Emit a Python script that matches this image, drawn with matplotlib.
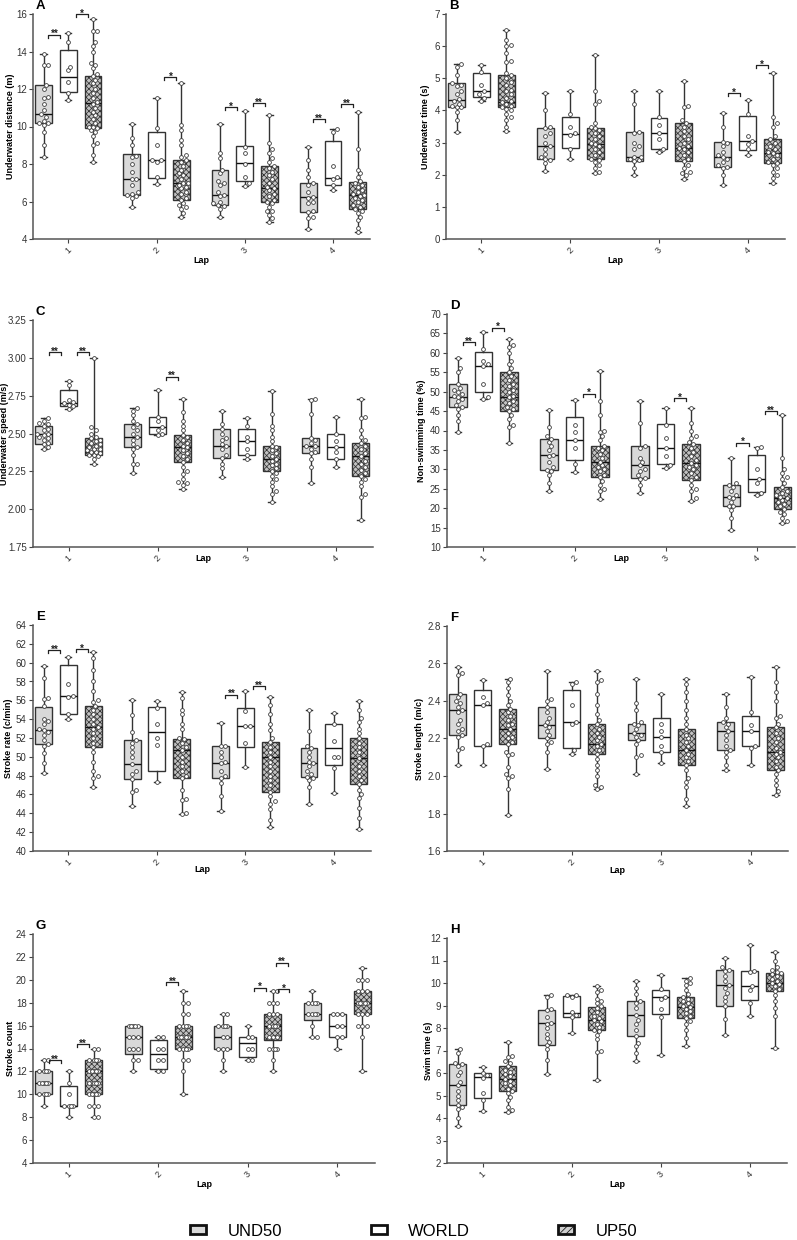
import numpy as np
import matplotlib
matplotlib.use('Agg')
import matplotlib.pyplot as plt
from matplotlib.patches import Patch

plt.rcParams['font.family'] = ['Liberation Sans', 'DejaVu Sans']
plt.rcParams['hatch.linewidth'] = 0.55

laps = ['1', '2', '3', '4']
groups = ['UND50', 'WORLD', 'UP50']

# ---------------- box statistics (min, q1, median, q3, max) per lap ----------------
A_und50_box = [(8.35, 10.2, 10.65, 12.2, 13.85), (5.7, 6.35, 7.2, 8.55, 10.15), (5.15, 5.8, 6.35, 7.7, 10.15), (4.55, 5.45, 6.25, 7.0, 8.9)]
A_world_box = [(11.4, 11.85, 12.65, 14.1, 15.0), (6.95, 7.25, 8.2, 9.7, 11.5), (6.85, 7.1, 8.05, 8.95, 10.85), (6.6, 6.9, 7.25, 9.25, 9.85)]
A_up50_box = [(8.1, 9.9, 11.25, 12.7, 15.75), (5.2, 6.1, 7.0, 8.2, 12.3), (4.9, 5.95, 6.7, 7.9, 10.6), (4.35, 5.6, 6.35, 7.05, 10.8)]

B_und50_box = [(3.32, 4.12, 4.32, 4.84, 5.45), (2.12, 2.50, 2.90, 3.46, 4.53), (1.98, 2.42, 2.56, 3.32, 4.61), (1.68, 2.25, 2.56, 3.03, 3.92)]
B_world_box = [(4.29, 4.41, 4.60, 5.18, 5.41), (2.48, 2.82, 3.26, 3.80, 4.61), (2.70, 2.80, 3.31, 3.76, 4.62), (2.62, 2.78, 3.04, 3.84, 4.32)]
B_up50_box = [(3.37, 4.10, 4.27, 5.10, 6.50), (2.04, 2.48, 2.95, 3.44, 5.72), (1.88, 2.42, 2.82, 3.62, 4.93), (1.73, 2.36, 2.68, 3.10, 5.16)]

C_und50_box = [(2.40, 2.43, 2.495, 2.55, 2.60), (2.24, 2.41, 2.48, 2.56, 2.67), (2.21, 2.34, 2.42, 2.53, 2.65), (2.17, 2.37, 2.42, 2.47, 2.73)]
C_world_box = [(2.66, 2.685, 2.70, 2.79, 2.85), (2.49, 2.50, 2.54, 2.61, 2.79), (2.33, 2.36, 2.45, 2.53, 2.60), (2.28, 2.33, 2.41, 2.50, 2.61)]
C_up50_box = [(2.30, 2.36, 2.38, 2.47, 3.00), (2.13, 2.31, 2.41, 2.49, 2.73), (2.05, 2.25, 2.33, 2.42, 2.78), (1.93, 2.22, 2.35, 2.44, 2.73)]

D_und50_box = [(39.6, 46.1, 48.7, 52.1, 58.6), (24.3, 29.8, 33.8, 37.9, 45.3), (23.9, 27.8, 31.0, 36.1, 47.6), (14.3, 20.6, 22.9, 26.0, 32.8)]
D_world_box = [(48.1, 49.8, 56.7, 60.1, 65.3), (29.4, 32.4, 37.6, 43.6, 47.9), (30.3, 31.5, 35.4, 41.8, 45.8), (23.5, 24.2, 27.5, 33.7, 35.8)]
D_up50_box = [(36.8, 45.0, 48.5, 55.1, 63.5), (22.3, 28.0, 32.0, 35.9, 55.2), (21.9, 27.2, 31.7, 36.4, 45.9), (16.2, 19.7, 22.7, 25.5, 43.9)]

E_und50_box = [(48.3, 51.4, 52.8, 55.3, 59.6), (44.8, 47.6, 49.2, 51.8, 56.0), (44.3, 47.8, 49.3, 51.2, 53.6), (45.0, 47.9, 49.3, 50.9, 55.0)]
E_world_box = [(54.0, 54.5, 56.5, 59.8, 60.6), (47.3, 48.5, 52.6, 55.3, 55.9), (48.9, 51.0, 53.3, 55.2, 57.0), (46.2, 49.1, 50.9, 53.5, 54.7)]
E_up50_box = [(46.8, 51.0, 53.2, 55.4, 61.1), (43.9, 47.7, 50.7, 51.9, 56.9), (42.6, 46.3, 50.0, 51.6, 56.4), (42.3, 47.1, 49.9, 52.0, 55.9)]

F_und50_box = [(2.06, 2.22, 2.35, 2.44, 2.58), (2.04, 2.20, 2.27, 2.37, 2.56), (2.01, 2.19, 2.23, 2.28, 2.52), (2.03, 2.14, 2.24, 2.29, 2.44)]
F_world_box = [(2.06, 2.16, 2.38, 2.46, 2.51), (2.12, 2.15, 2.29, 2.46, 2.50), (2.07, 2.13, 2.21, 2.31, 2.44), (2.06, 2.16, 2.24, 2.32, 2.53)]
F_up50_box = [(1.79, 2.17, 2.25, 2.36, 2.52), (1.93, 2.12, 2.17, 2.28, 2.56), (1.84, 2.06, 2.14, 2.25, 2.52), (1.90, 2.03, 2.13, 2.26, 2.58)]

G_und50_box = [(9, 10, 11, 12, 13), (12, 13.5, 15, 16, 16), (12, 14, 15, 16, 17), (15, 16.5, 17, 18, 19)]
G_world_box = [(8, 9, 9, 10.7, 12), (12, 12.25, 13.5, 14.75, 15), (13, 13.25, 14.5, 15, 16), (14, 15, 16, 17, 17)]
G_up50_box = [(8, 10, 12, 13, 14), (10, 14, 15, 16, 19), (12, 14.75, 16, 17, 19), (12, 17, 18, 19, 21)]

H_und50_box = [(3.65, 4.58, 5.45, 6.40, 7.05), (5.95, 7.26, 8.24, 8.82, 9.45), (6.55, 7.65, 8.56, 9.18, 10.08), (7.68, 8.98, 9.92, 10.60, 11.11)]
H_world_box = [(4.32, 4.87, 5.83, 6.00, 6.28), (7.76, 8.48, 8.68, 9.43, 9.48), (6.80, 8.63, 9.36, 9.71, 10.36), (8.52, 9.26, 9.86, 10.52, 11.67)]
H_up50_box = [(4.28, 5.20, 5.75, 6.30, 7.38), (5.68, 7.93, 8.36, 8.92, 9.85), (7.21, 8.45, 8.93, 9.38, 10.22), (7.12, 9.65, 10.00, 10.43, 11.36)]

# ---------------- individual observations per lap ----------------
A_und50_pts = [
    [8.35, 9.0, 9.7, 10.1, 10.2, 10.2, 10.3, 10.5, 10.65, 10.9, 11.2, 11.5, 11.6, 12.0, 12.2, 13.3, 13.3, 13.85],
    [5.7, 6.2, 6.3, 6.35, 6.4, 6.5, 6.9, 7.2, 7.2, 7.6, 8.0, 8.4, 8.45, 9.0, 9.4, 10.15],
    [5.15, 5.6, 5.75, 5.8, 5.9, 6.0, 6.3, 6.35, 6.5, 6.9, 7.0, 7.1, 7.5, 7.7, 8.3, 8.6, 10.15],
    [4.55, 5.1, 5.2, 5.45, 5.5, 5.9, 6.0, 6.2, 6.25, 6.5, 6.9, 7.0, 7.3, 7.7, 8.2, 8.9]]
A_world_pts = [
    [11.4, 11.8, 12.4, 13.0, 13.2, 14.5, 15.0],
    [6.95, 7.3, 8.1, 8.2, 8.2, 9.0, 9.9, 11.5],
    [6.85, 7.0, 7.3, 8.0, 8.6, 8.9, 10.85],
    [6.6, 6.9, 7.2, 7.3, 7.9, 9.7, 9.85]]
A_up50_pts = [
    [8.1, 8.5, 9.0, 9.1, 9.5, 9.7, 9.8, 9.9, 10.0, 10.0, 10.2, 10.4, 10.6, 10.8, 11.0, 11.2, 11.3, 11.5, 11.8, 12.0, 12.3, 12.5, 12.7, 12.8, 13.1, 13.3, 13.4, 14.0, 14.3, 14.5, 15.1, 15.1, 15.75],
    [5.2, 5.4, 5.6, 5.7, 5.8, 5.9, 6.1, 6.2, 6.4, 6.5, 6.7, 6.8, 6.9, 7.0, 7.0, 7.2, 7.4, 7.5, 7.7, 7.9, 8.1, 8.2, 8.4, 8.5, 9.0, 9.3, 9.8, 10.1, 12.3],
    [4.9, 5.1, 5.3, 5.5, 5.5, 5.7, 5.9, 6.0, 6.1, 6.3, 6.4, 6.6, 6.7, 6.8, 7.0, 7.2, 7.4, 7.6, 7.8, 7.9, 8.1, 8.3, 8.6, 8.8, 9.1, 10.6],
    [4.35, 4.6, 5.0, 5.2, 5.4, 5.5, 5.6, 5.7, 5.8, 6.0, 6.1, 6.2, 6.3, 6.35, 6.4, 6.5, 6.6, 6.8, 6.9, 7.0, 7.1, 7.3, 7.5, 7.7, 8.8, 10.8]]

B_und50_pts = [
    [3.32, 3.7, 3.95, 4.1, 4.12, 4.15, 4.2, 4.3, 4.35, 4.5, 4.6, 4.75, 4.8, 4.85, 5.1, 5.35, 5.45],
    [2.12, 2.35, 2.45, 2.5, 2.55, 2.65, 2.8, 2.9, 3.0, 3.2, 3.3, 3.46, 3.5, 4.0, 4.53],
    [1.98, 2.2, 2.42, 2.45, 2.5, 2.55, 2.56, 2.8, 2.9, 3.0, 3.3, 3.32, 4.2, 4.61],
    [1.68, 2.0, 2.2, 2.25, 2.3, 2.4, 2.5, 2.56, 2.6, 2.7, 2.9, 3.0, 3.03, 3.5, 3.92]]
B_world_pts = [
    [4.29, 4.4, 4.5, 4.6, 4.8, 5.2, 5.41],
    [2.48, 2.8, 3.25, 3.3, 3.5, 3.9, 4.61],
    [2.70, 2.8, 3.1, 3.3, 3.55, 3.8, 4.62],
    [2.62, 2.8, 2.95, 3.04, 3.2, 3.9, 4.32]]
B_up50_pts = [
    [3.37, 3.5, 3.7, 3.8, 3.9, 4.0, 4.05, 4.1, 4.15, 4.2, 4.27, 4.3, 4.4, 4.5, 4.6, 4.65, 4.8, 4.9, 5.0, 5.1, 5.15, 5.5, 5.55, 5.8, 6.0, 6.05, 6.2, 6.50],
    [2.04, 2.1, 2.2, 2.3, 2.4, 2.45, 2.5, 2.6, 2.7, 2.8, 2.9, 2.95, 3.0, 3.1, 3.2, 3.3, 3.4, 3.44, 3.5, 3.6, 4.2, 4.3, 4.6, 5.72],
    [1.88, 2.0, 2.05, 2.1, 2.2, 2.3, 2.42, 2.5, 2.6, 2.7, 2.8, 2.82, 2.9, 3.0, 3.1, 3.2, 3.35, 3.5, 3.62, 3.7, 4.1, 4.15, 4.93],
    [1.73, 1.9, 2.0, 2.1, 2.2, 2.3, 2.36, 2.4, 2.5, 2.6, 2.68, 2.7, 2.8, 2.9, 3.0, 3.1, 3.2, 3.5, 3.6, 3.8, 5.16]]

C_und50_pts = [
    [2.40, 2.41, 2.43, 2.44, 2.46, 2.47, 2.48, 2.49, 2.50, 2.50, 2.52, 2.53, 2.55, 2.56, 2.57, 2.58, 2.60],
    [2.24, 2.30, 2.30, 2.36, 2.40, 2.41, 2.43, 2.46, 2.48, 2.50, 2.52, 2.54, 2.56, 2.58, 2.62, 2.65, 2.67],
    [2.21, 2.27, 2.30, 2.34, 2.36, 2.40, 2.42, 2.43, 2.46, 2.47, 2.50, 2.53, 2.56, 2.65],
    [2.17, 2.28, 2.33, 2.37, 2.38, 2.40, 2.42, 2.42, 2.44, 2.46, 2.47, 2.63, 2.72, 2.73]]
C_world_pts = [
    [2.66, 2.68, 2.69, 2.70, 2.71, 2.72, 2.82, 2.85],
    [2.49, 2.50, 2.52, 2.54, 2.58, 2.61, 2.79],
    [2.33, 2.36, 2.40, 2.45, 2.48, 2.55, 2.60],
    [2.28, 2.33, 2.38, 2.41, 2.45, 2.50, 2.61]]
C_up50_pts = [
    [2.30, 2.33, 2.35, 2.36, 2.36, 2.37, 2.38, 2.38, 2.39, 2.40, 2.40, 2.41, 2.42, 2.43, 2.44, 2.45, 2.46, 2.47, 2.48, 2.50, 2.52, 2.54, 3.00],
    [2.13, 2.16, 2.17, 2.18, 2.20, 2.23, 2.25, 2.28, 2.31, 2.33, 2.35, 2.37, 2.39, 2.41, 2.42, 2.44, 2.46, 2.48, 2.49, 2.52, 2.55, 2.58, 2.64, 2.73],
    [2.05, 2.10, 2.12, 2.15, 2.18, 2.20, 2.22, 2.24, 2.25, 2.27, 2.29, 2.30, 2.32, 2.33, 2.35, 2.37, 2.39, 2.41, 2.42, 2.45, 2.48, 2.52, 2.55, 2.63, 2.78],
    [1.93, 2.08, 2.10, 2.15, 2.18, 2.20, 2.22, 2.24, 2.26, 2.28, 2.30, 2.32, 2.35, 2.37, 2.40, 2.42, 2.44, 2.46, 2.48, 2.52, 2.60, 2.61, 2.73]]

D_und50_pts = [
    [39.6, 42.5, 44.0, 45.5, 46.1, 46.5, 47.5, 48.0, 48.7, 49.0, 49.5, 50.0, 50.5, 51.0, 52.1, 55.0, 56.0, 58.6],
    [24.3, 26.5, 28.5, 29.5, 29.8, 30.5, 32.0, 33.5, 33.8, 35.0, 36.0, 37.0, 37.9, 38.5, 41.0, 45.3],
    [23.9, 26.0, 27.5, 27.8, 28.5, 29.5, 30.0, 31.0, 32.0, 33.0, 35.5, 36.1, 42.0, 47.6],
    [14.3, 17.5, 19.5, 20.5, 20.6, 21.5, 22.5, 22.9, 23.5, 24.5, 25.5, 26.0, 26.5, 32.8]]
D_world_pts = [
    [48.1, 48.5, 52.0, 56.5, 57.0, 58.0, 61.0, 65.3],
    [29.4, 31.5, 35.5, 37.6, 39.5, 41.5, 47.9],
    [30.3, 31.0, 33.5, 35.4, 38.0, 41.5, 45.8],
    [23.5, 24.0, 26.5, 27.5, 30.0, 35.5, 35.8]]
D_up50_pts = [
    [36.8, 41.0, 41.5, 43.0, 44.0, 45.0, 45.5, 46.0, 47.0, 47.5, 48.5, 49.0, 50.0, 50.5, 51.5, 52.0, 53.0, 54.0, 55.1, 56.0, 57.0, 58.0, 60.0, 61.5, 62.0, 63.5],
    [22.3, 24.5, 25.0, 26.0, 27.0, 28.0, 28.5, 29.5, 30.0, 30.5, 31.0, 32.0, 33.0, 34.0, 35.0, 35.5, 36.0, 37.5, 38.5, 39.5, 40.0, 44.0, 47.7, 55.2],
    [21.9, 22.5, 24.5, 25.0, 26.0, 27.2, 28.0, 29.0, 30.0, 30.5, 31.0, 31.7, 32.5, 33.5, 34.5, 35.5, 36.4, 37.0, 38.0, 38.5, 40.0, 42.0, 45.9],
    [16.2, 16.8, 17.5, 18.5, 19.0, 19.7, 20.5, 21.0, 21.5, 22.0, 22.7, 23.0, 23.5, 24.0, 24.5, 25.5, 26.5, 27.5, 28.0, 29.0, 30.0, 33.0, 43.9]]

E_und50_pts = [
    [48.3, 49.3, 50.4, 51.2, 51.4, 51.8, 52.3, 52.6, 52.8, 53.0, 53.5, 53.8, 54.0, 55.4, 56.1, 56.2, 58.4, 59.6],
    [44.8, 46.3, 46.5, 47.6, 48.2, 48.5, 49.2, 50.0, 50.5, 51.0, 51.5, 51.8, 52.6, 54.4, 56.0],
    [44.3, 45.8, 47.2, 47.8, 48.0, 48.5, 49.3, 49.5, 50.0, 50.5, 51.1, 51.2, 53.6],
    [45.0, 46.8, 47.5, 47.8, 47.9, 48.2, 48.5, 49.0, 49.3, 49.5, 50.0, 50.5, 50.9, 51.1, 52.7, 55.0]]
E_world_pts = [
    [54.0, 54.5, 56.4, 56.5, 57.7, 60.6],
    [47.3, 51.3, 52.0, 53.5, 55.2, 55.9],
    [48.9, 51.5, 53.3, 53.3, 54.9, 57.0],
    [46.2, 48.8, 50.0, 50.0, 51.7, 53.5, 54.7]]
E_up50_pts = [
    [46.8, 47.8, 48.0, 48.5, 49.5, 50.5, 51.0, 51.5, 52.0, 52.5, 53.0, 53.2, 53.5, 54.0, 54.5, 55.0, 55.4, 55.8, 56.0, 57.0, 58.0, 59.2, 60.5, 61.1],
    [43.9, 44.0, 45.4, 45.5, 46.5, 47.7, 48.0, 48.5, 49.0, 49.5, 50.0, 50.7, 51.0, 51.5, 51.9, 52.0, 53.0, 53.5, 54.5, 55.0, 56.2, 56.9],
    [42.6, 43.3, 44.5, 45.0, 45.3, 45.8, 46.3, 47.0, 47.5, 48.0, 48.5, 49.0, 49.5, 50.0, 50.5, 51.0, 51.6, 52.0, 52.8, 53.5, 54.5, 55.5, 56.4],
    [42.3, 43.5, 44.6, 45.6, 46.0, 46.5, 47.1, 47.5, 48.0, 48.5, 49.0, 49.9, 50.5, 51.0, 51.5, 52.0, 52.5, 53.0, 53.7, 54.1, 55.0, 55.9]]

F_und50_pts = [
    [2.06, 2.14, 2.15, 2.21, 2.22, 2.24, 2.25, 2.28, 2.30, 2.34, 2.35, 2.37, 2.39, 2.40, 2.42, 2.44, 2.54, 2.55, 2.58],
    [2.04, 2.13, 2.17, 2.18, 2.20, 2.22, 2.24, 2.26, 2.27, 2.29, 2.31, 2.34, 2.37, 2.40, 2.41, 2.56],
    [2.01, 2.10, 2.11, 2.17, 2.19, 2.21, 2.22, 2.23, 2.25, 2.27, 2.28, 2.29, 2.35, 2.39, 2.52],
    [2.03, 2.06, 2.10, 2.13, 2.14, 2.16, 2.19, 2.22, 2.24, 2.26, 2.28, 2.29, 2.31, 2.37, 2.44]]
F_world_pts = [
    [2.06, 2.16, 2.17, 2.38, 2.39, 2.42, 2.51],
    [2.12, 2.14, 2.28, 2.29, 2.38, 2.49, 2.50],
    [2.07, 2.13, 2.16, 2.21, 2.24, 2.28, 2.44],
    [2.06, 2.15, 2.16, 2.24, 2.27, 2.34, 2.53]]
F_up50_pts = [
    [1.79, 1.93, 1.99, 2.00, 2.01, 2.05, 2.11, 2.12, 2.13, 2.17, 2.18, 2.20, 2.21, 2.23, 2.25, 2.27, 2.28, 2.30, 2.32, 2.34, 2.36, 2.38, 2.40, 2.43, 2.47, 2.50, 2.52],
    [1.93, 1.94, 1.95, 2.00, 2.03, 2.06, 2.09, 2.12, 2.14, 2.16, 2.17, 2.19, 2.21, 2.23, 2.25, 2.28, 2.30, 2.33, 2.38, 2.44, 2.50, 2.51, 2.56],
    [1.84, 1.88, 1.94, 1.97, 1.99, 2.03, 2.06, 2.08, 2.10, 2.12, 2.14, 2.16, 2.18, 2.20, 2.22, 2.25, 2.28, 2.31, 2.35, 2.40, 2.45, 2.49, 2.52],
    [1.90, 1.92, 1.95, 1.98, 2.01, 2.03, 2.05, 2.08, 2.10, 2.12, 2.13, 2.15, 2.18, 2.20, 2.23, 2.26, 2.28, 2.31, 2.32, 2.40, 2.45, 2.50, 2.58]]

G_und50_pts = [
    [9, 10, 10, 10, 10, 11, 11, 11, 11, 11, 12, 12, 12, 12, 13, 13],
    [12, 13, 13, 14, 14, 14, 15, 15, 15, 16, 16, 16, 16, 16],
    [12, 13, 14, 14, 14, 15, 15, 16, 16, 16, 16, 17, 17],
    [15, 15, 16, 17, 17, 17, 17, 18, 18, 18, 18, 19]]
G_world_pts = [
    [8, 9, 9, 9, 9, 10, 11, 12],
    [12, 12, 13, 13, 14, 14, 15, 15],
    [13, 13, 14, 14, 15, 15, 16],
    [14, 15, 15, 16, 16, 17, 17, 17]]
G_up50_pts = [
    [8, 8, 9, 9, 9, 10, 10, 10, 10, 10, 11, 11, 11, 11, 12, 12, 12, 12, 12, 13, 13, 13, 13, 14, 14],
    [10, 12, 13, 13, 14, 14, 14, 14, 15, 15, 15, 15, 15, 16, 16, 16, 16, 17, 17, 18, 18, 19],
    [12, 13, 14, 14, 14, 14, 15, 15, 15, 16, 16, 16, 16, 17, 17, 17, 18, 18, 18, 19, 19],
    [12, 15, 16, 16, 16, 17, 17, 17, 18, 18, 18, 18, 18, 19, 19, 19, 20, 20, 20, 21]]

H_und50_pts = [
    [3.65, 4.0, 4.4, 4.5, 4.58, 4.8, 5.0, 5.2, 5.45, 5.6, 5.9, 6.05, 6.3, 6.4, 6.45, 6.9, 7.05],
    [5.95, 6.6, 7.05, 7.25, 7.4, 7.55, 7.75, 8.0, 8.2, 8.24, 8.5, 8.8, 8.85, 9.4, 9.45],
    [6.55, 6.9, 7.2, 7.35, 7.65, 7.9, 8.2, 8.35, 8.56, 8.9, 9.1, 9.18, 9.5, 9.8, 10.08],
    [7.68, 8.4, 8.98, 9.2, 9.4, 9.55, 9.8, 9.92, 10.1, 10.3, 10.55, 10.6, 10.7, 11.11]]
H_world_pts = [
    [4.32, 4.8, 5.1, 5.8, 5.9, 6.0, 6.28],
    [7.76, 8.48, 8.6, 8.7, 9.4, 9.45, 9.48],
    [6.80, 8.5, 8.85, 9.3, 9.4, 9.75, 10.36],
    [8.52, 9.1, 9.7, 9.85, 10.5, 10.55, 11.67]]
H_up50_pts = [
    [4.28, 4.35, 4.5, 4.8, 4.95, 5.1, 5.2, 5.3, 5.45, 5.55, 5.65, 5.75, 5.85, 5.95, 6.05, 6.15, 6.3, 6.45, 6.55, 6.7, 6.75, 7.38],
    [5.68, 6.95, 7.0, 7.5, 7.7, 7.85, 7.93, 8.05, 8.2, 8.3, 8.36, 8.45, 8.55, 8.7, 8.9, 9.0, 9.1, 9.2, 9.3, 9.6, 9.7, 9.85],
    [7.21, 7.55, 7.9, 8.2, 8.3, 8.45, 8.55, 8.65, 8.75, 8.85, 8.93, 9.0, 9.1, 9.2, 9.3, 9.38, 9.5, 9.7, 9.9, 10.0, 10.1, 10.22],
    [7.12, 8.55, 8.9, 9.2, 9.45, 9.65, 9.75, 9.85, 9.95, 10.0, 10.1, 10.2, 10.3, 10.4, 10.43, 10.5, 10.6, 10.7, 11.0, 11.36]]

# ---------------- significance annotations: (lap, x-offset start, x-offset end, y, label) ----------------
A_sig = [(1, -0.225, -0.09, 14.9, '**'), (1, 0.09, 0.225, 16.0, '*'), (2, 0.09, 0.225, 12.64, '*'),
         (3, -0.225, -0.09, 11.04, '*'), (3, 0.09, 0.225, 11.25, '**'),
         (4, -0.225, -0.09, 10.4, '**'), (4, 0.09, 0.225, 11.2, '**')]
B_sig = [(4, -0.225, -0.09, 4.53, '*'), (4, 0.09, 0.225, 5.41, '*')]
C_sig = [(1, -0.225, -0.09, 3.036, '**'), (1, 0.09, 0.225, 3.036, '**'), (2, 0.09, 0.225, 2.875, '**')]
D_sig = [(1, -0.225, -0.09, 62.7, '**'), (1, 0.09, 0.225, 66.5, '*'), (2, 0.09, 0.225, 49.5, '*'),
         (3, 0.09, 0.225, 48.4, '*'), (4, -0.225, -0.09, 36.9, '*'), (4, 0.09, 0.225, 45.0, '**')]
E_sig = [(1, -0.225, -0.09, 61.3, '**'), (1, 0.09, 0.225, 61.4, '*'),
         (3, -0.225, -0.09, 56.6, '**'), (3, 0.09, 0.225, 57.5, '**')]
F_sig = []
G_sig = [(1, -0.225, -0.09, 13.0, '**'), (1, 0.09, 0.225, 14.4, '**'), (2, 0.09, 0.225, 19.8, '**'),
         (3, 0.07, 0.20, 19.3, '*'), (3, 0.31, 0.45, 21.5, '**'), (3, 0.34, 0.46, 19.2, '*')]
H_sig = []

# ---------------- figure ----------------
W, H = 797, 1240
fig = plt.figure(figsize=(W / 100, H / 100), dpi=100)

face_cols = ['#d9d9d9', '#ffffff', '#c2c2c2']
hatches = [None, None, 'xxxxxx']
offsets = [-0.28, 0.0, 0.28]
box_w = 0.19
edge = '#333333'


def swarm_offsets(vals, ky, half_px, dot_px):
    vals = np.asarray(vals, float)
    order = np.argsort(vals, kind='stable')
    cands = [0.0]
    step = dot_px * 0.55
    k = 1
    while k * step <= half_px:
        cands += [k * step, -k * step]
        k += 1
    placed = []
    offs = np.zeros(len(vals))
    for i in order:
        yp = vals[i] * ky
        best, bestc, bestd = None, 0.0, -1.0
        for c in cands:
            if placed:
                dmin = min(np.hypot(c - px, yp - py) for px, py in placed)
            else:
                dmin = 1e9
            if dmin >= dot_px:
                best = c
                break
            if dmin > bestd:
                bestd, bestc = dmin, c
        if best is None:
            best = bestc
        offs[i] = best
        placed.append((best, yp))
    return offs


def panel(rect_px, letter, ylabel, ylim, yticks, fmt, boxes, pts, sig, lap_dy, ylab_x,
          xlim=(0.6, 4.42)):
    l, t, r, b = rect_px
    ax = fig.add_axes([l / W, 1 - b / H, (r - l) / W, (b - t) / H])
    ax.set_xlim(*xlim)
    ax.set_ylim(*ylim)
    kx = (r - l) / (xlim[1] - xlim[0])
    ky = (b - t) / (ylim[1] - ylim[0])
    for g in range(3):
        stats = []
        for li in range(4):
            mn, q1, md, q3, mx = boxes[g][li]
            stats.append(dict(med=md, q1=q1, q3=q3, whislo=mn, whishi=mx, fliers=[]))
        pos = [li + 1 + offsets[g] for li in range(4)]
        bp = ax.bxp(stats, positions=pos, widths=box_w, patch_artist=True, showfliers=False,
                    manage_ticks=False, capwidths=0.07,
                    boxprops=dict(facecolor=face_cols[g], edgecolor=edge, linewidth=1.0),
                    medianprops=dict(color='#111111', linewidth=1.0),
                    whiskerprops=dict(color=edge, linewidth=1.0),
                    capprops=dict(color=edge, linewidth=1.0))
        for p in bp['boxes']:
            if hatches[g]:
                p.set_hatch(hatches[g])
            p.set_zorder(2)
        for li in range(4):
            v = pts[g][li]
            o = swarm_offsets(v, ky, half_px=box_w * kx * 0.5 - 1.5, dot_px=4.0)
            ax.scatter(np.full(len(v), li + 1 + offsets[g]) + o / kx, v, s=7.5,
                       facecolor='white', edgecolor='#3c3c3c', linewidths=0.6, zorder=4)
    drop = 3.0 / ky
    for lap, x0, x1, y, lab in sig:
        xa, xb = lap + x0, lap + x1
        ax.plot([xa, xa, xb, xb], [y - drop, y, y, y - drop], color='#222222', lw=0.9,
                clip_on=False, zorder=5)
        ax.text((xa + xb) / 2, y - 2.5 / ky, lab, ha='center', va='baseline', fontsize=7,
                fontweight='bold', color='#222222', clip_on=False)
    ax.set_xticks([1, 2, 3, 4])
    ax.set_xticklabels(laps, rotation=45, fontsize=6.5, color='#333333')
    ax.set_yticks(yticks)
    ax.set_yticklabels([fmt.format(v) for v in yticks], fontsize=7, color='#333333')
    ax.tick_params(axis='both', direction='out', length=3, width=0.8, color='#444444', pad=1.5)
    for s in ['top', 'right']:
        ax.spines[s].set_visible(False)
    for s in ['left', 'bottom']:
        ax.spines[s].set_color('#555555')
        ax.spines[s].set_linewidth(1.1)
    ax.set_ylabel(ylabel, fontsize=6.5, fontweight='bold')
    ax.yaxis.set_label_coords(-(l - ylab_x) / (r - l), 0.5)
    ax.set_xlabel('Lap', fontsize=6.5, fontweight='bold')
    ax.xaxis.set_label_coords(0.5, -(lap_dy - 4) / (b - t))
    ax.text(0.008, 1.0 + 8 / (b - t), letter, transform=ax.transAxes, fontsize=9.5,
            fontweight='bold', va='center', ha='left')
    return ax


panel((33, 14, 370, 239), 'A', 'Underwater distance (m)', (4, 16), list(range(4, 17, 2)), '{:d}',
      [A_und50_box, A_world_box, A_up50_box], [A_und50_pts, A_world_pts, A_up50_pts], A_sig, 21, 15.5)
panel((446, 14, 785, 239), 'B', 'Underwater time (s)', (0, 7), list(range(0, 8)), '{:d}',
      [B_und50_box, B_world_box, B_up50_box], [B_und50_pts, B_world_pts, B_up50_pts], B_sig, 21, 430.5)
panel((33, 320, 373, 547), 'C', 'Underwater speed (m/s)', (1.75, 3.25), [1.75, 2.0, 2.25, 2.5, 2.75, 3.0, 3.25], '{:.2f}',
      [C_und50_box, C_world_box, C_up50_box], [C_und50_pts, C_world_pts, C_up50_pts], C_sig, 11, 9.5)
panel((447, 314, 795, 547), 'D', 'Non-swimming time (%)', (10, 70), list(range(10, 71, 5)), '{:d}',
      [D_und50_box, D_world_box, D_up50_box], [D_und50_pts, D_world_pts, D_up50_pts], D_sig, 11, 425.5)
panel((33, 625, 371, 851), 'E', 'Stroke rate (c/min)', (40, 64), list(range(40, 65, 2)), '{:d}',
      [E_und50_box, E_world_box, E_up50_box], [E_und50_pts, E_world_pts, E_up50_pts], E_sig, 18, 13.5)
panel((447, 626, 788, 851), 'F', 'Stroke length (m/c)', (1.6, 2.8), [1.6, 1.8, 2.0, 2.2, 2.4, 2.6, 2.8], '{:.1f}',
      [F_und50_box, F_world_box, F_up50_box], [F_und50_pts, F_world_pts, F_up50_pts], F_sig, 19, 424.5)
panel((33, 934, 375, 1163), 'G', 'Stroke count', (4, 24), list(range(4, 25, 2)), '{:d}',
      [G_und50_box, G_world_box, G_up50_box], [G_und50_pts, G_world_pts, G_up50_pts], G_sig, 21, 15.5)
panel((447, 938, 787, 1163), 'H', 'Swim time (s)', (2, 12), list(range(2, 13)), '{:d}',
      [H_und50_box, H_world_box, H_up50_box], [H_und50_pts, H_world_pts, H_up50_pts], H_sig, 21, 433)

handles = [Patch(facecolor=face_cols[0], edgecolor='#111111', linewidth=2.0),
           Patch(facecolor='white', edgecolor='#111111', linewidth=2.0),
           Patch(facecolor='#cfcfcf', edgecolor='#111111', linewidth=2.0, hatch='/////')]
fig.legend(handles, groups, loc='center', bbox_to_anchor=(414 / W, 1 - 1231 / H), ncol=3,
           frameon=False, fontsize=12, handlelength=0.95, handleheight=0.45,
           handletextpad=1.3, columnspacing=5.3, borderpad=0.1)

fig.savefig('out.png', dpi=100)
